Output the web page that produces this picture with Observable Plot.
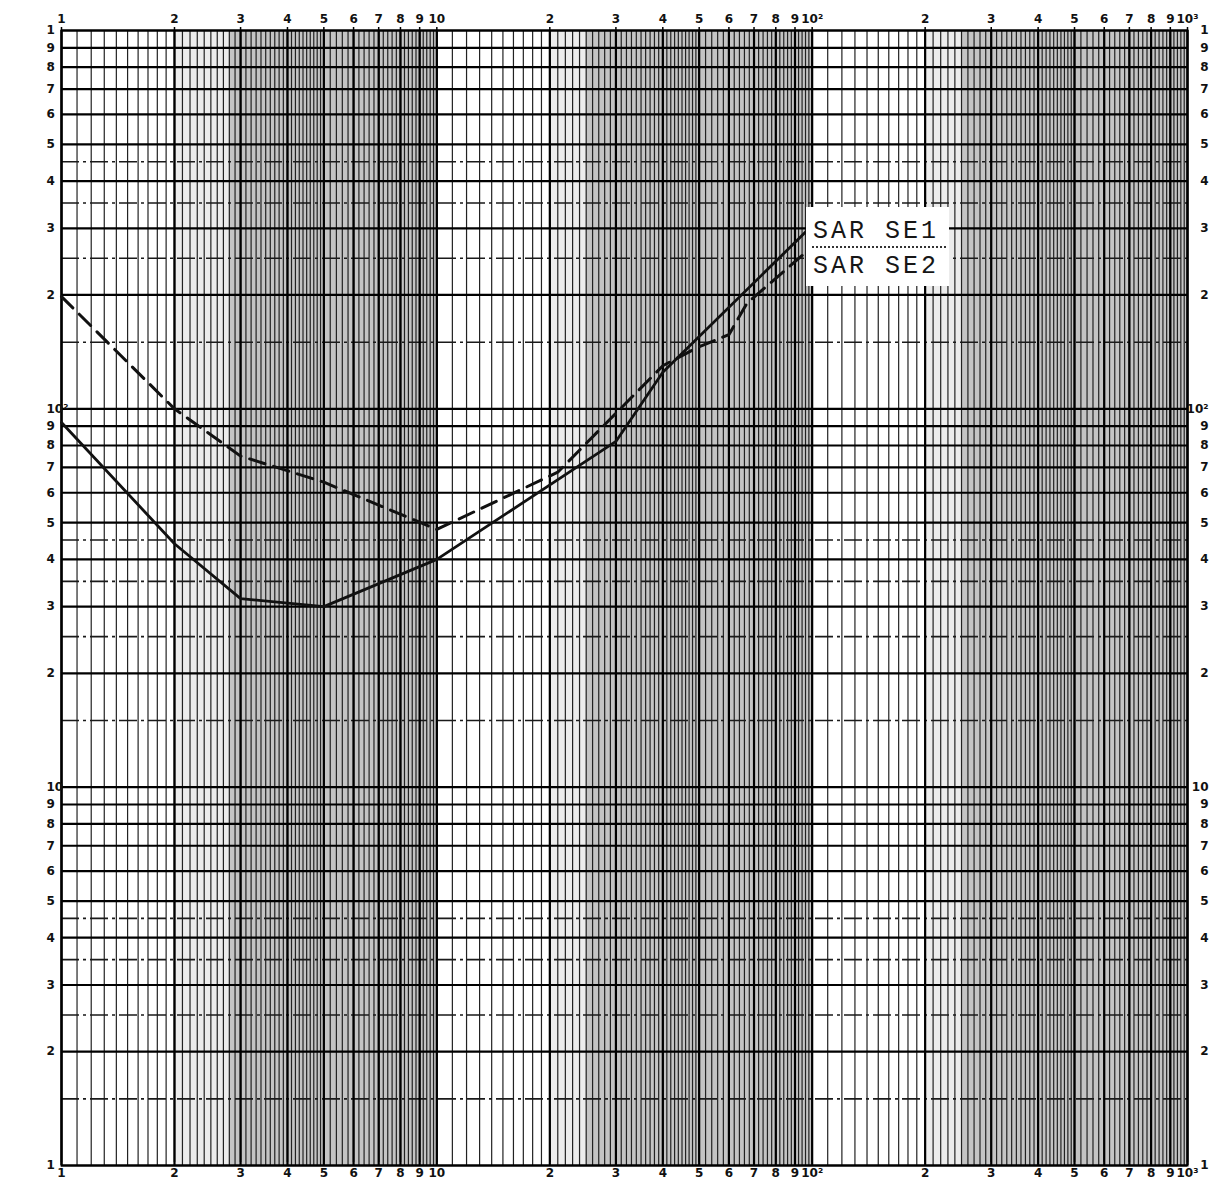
<!DOCTYPE html>
<html><head><meta charset="utf-8">
<script src="https://cdn.jsdelivr.net/npm/d3@7"></script>
<script src="https://cdn.jsdelivr.net/npm/@observablehq/plot@0.6"></script>
<style>
body{margin:0;background:#fff;}
#wrap{position:relative;width:1224px;height:1181px;overflow:hidden;}
.lg{position:absolute;font-family:"Liberation Mono","DejaVu Sans Mono",monospace;font-size:25px;line-height:25px;letter-spacing:3px;color:#161616;white-space:nowrap;}
</style></head><body><div id="wrap"></div>
<script>
// ---- data ----
const seriesNames = ["SAR SE1", "SAR SE2"];
const se1X = [1, 2, 3, 5, 10, 30, 40, 100];
const se1Y = [92, 44, 31.5, 30, 40, 82, 125, 305];
const se2X = [1, 2, 3, 5, 10, 21, 40, 50, 60, 67, 100];
const se2Y = [198, 100, 75, 64, 48, 68, 130, 146, 157, 190, 268];

// ---- graph-paper ticks ----
const decades = [1, 10, 100];
const majorMantissa = [1, 2, 3, 4, 5, 6, 7, 8, 9];
const minorMantissa = [1.1,1.2,1.3,1.4,1.5,1.6,1.7,1.8,1.9,2.1,2.2,2.3,2.4,2.5,2.6,2.7,2.8,2.9,
  3.1,3.2,3.3,3.4,3.5,3.6,3.7,3.8,3.9,4.1,4.2,4.3,4.4,4.5,4.6,4.7,4.8,4.9,
  5.2,5.4,5.6,5.8,6.2,6.4,6.6,6.8,7.2,7.4,7.6,7.8,8.2,8.4,8.6,8.8,9.2,9.4,9.6,9.8];
const halfMantissa = [1.5, 2.5, 3.5, 4.5];
const shadeBands = [[2.8, 10], [25, 100], [250, 1000]];
const lightBands = [[2, 2.8], [20, 25], [200, 250]];

const expand = (ms) => decades.flatMap(d => ms.map(m => +(m * d).toPrecision(6)));
const majors = [...expand(majorMantissa), 1000];
const minors = expand(minorMantissa);
const halves = expand(halfMantissa);

const sup = {10: "10", 100: "10\u00B2", 1000: "10\u00B3"};
const fmtX = v => sup[v] ?? String(Math.round(v / Math.pow(10, Math.floor(Math.log10(v) + 1e-9))));
const fmtY = v => v === 1000 ? "1" : fmtX(v);

const se1 = se1X.map((x, i) => ({x, y: se1Y[i]}));
const se2 = se2X.map((x, i) => ({x, y: se2Y[i]}));
const bands = shadeBands.map(([a, b]) => ({a, b}));
const lbands = lightBands.map(([a, b]) => ({a, b}));

const lab = {fill: "#111", fontSize: 12, fontWeight: "bold", fontFamily: "DejaVu Sans"};

const chart = Plot.plot({
  width: 1224, height: 1181,
  marginLeft: 61, marginRight: 37, marginTop: 30, marginBottom: 16,
  x: {type: "log", domain: [1, 1000], axis: null},
  y: {type: "log", domain: [1, 1000], axis: null},
  style: {fontFamily: "DejaVu Sans", background: "#fff", color: "#111"},
  marks: [
    Plot.rect(lbands, {x1: "a", x2: "b", y1: 1, y2: 1000, fill: "#ececec"}),
    Plot.rect(bands, {x1: "a", x2: "b", y1: 1, y2: 1000, fill: "#c4c4c4"}),
    Plot.ruleX(minors, {stroke: "#222", strokeWidth: 1.2}),
    Plot.ruleY(halves, {stroke: "#1a1a1a", strokeWidth: 1.6, strokeDasharray: "18,4,3,4"}),
    Plot.ruleX(majors, {stroke: "#000", strokeWidth: 2.2}),
    Plot.ruleY(majors, {stroke: "#000", strokeWidth: 2.2}),
    Plot.frame({stroke: "#000", strokeWidth: 2}),
    Plot.tickX(majors, {x: d => d, frameAnchor: "top", dy: -3, stroke: "#000", strokeWidth: 1.5}),
    Plot.text(majors, {x: d => d, text: fmtX, frameAnchor: "top", dy: -16, ...lab}),
    Plot.text(majors, {x: d => d, text: fmtX, frameAnchor: "bottom", dy: 11, ...lab}),
    Plot.text(majors, {y: d => d, text: fmtY, frameAnchor: "left", dx: -15, ...lab}),
    Plot.text(majors, {y: d => d, text: fmtY, frameAnchor: "right", dx: 21, ...lab}),
    Plot.line(se1, {x: "x", y: "y", stroke: "#111", strokeWidth: 2.8}),
    Plot.line(se2, {x: "x", y: "y", stroke: "#111", strokeWidth: 3, strokeDasharray: "16,9"})
  ]
});
const wrap = document.getElementById("wrap");
wrap.appendChild(chart);

// legend box placed inside the plot, next to the line ends
const box = document.createElement("div");
box.style.cssText = "position:absolute;left:806px;top:207px;width:143px;height:79px;background:#fff;";
wrap.appendChild(box);
const dots = document.createElement("div");
dots.style.cssText = "position:absolute;left:812px;top:246px;width:134px;height:0;border-top:2px dotted #333;";
wrap.appendChild(dots);
seriesNames.forEach((name, i) => {
  const s = document.createElement("div");
  s.className = "lg";
  s.textContent = name;
  s.style.left = "813px";
  s.style.top = (219 + i * 35) + "px";
  wrap.appendChild(s);
});
</script></body></html>
